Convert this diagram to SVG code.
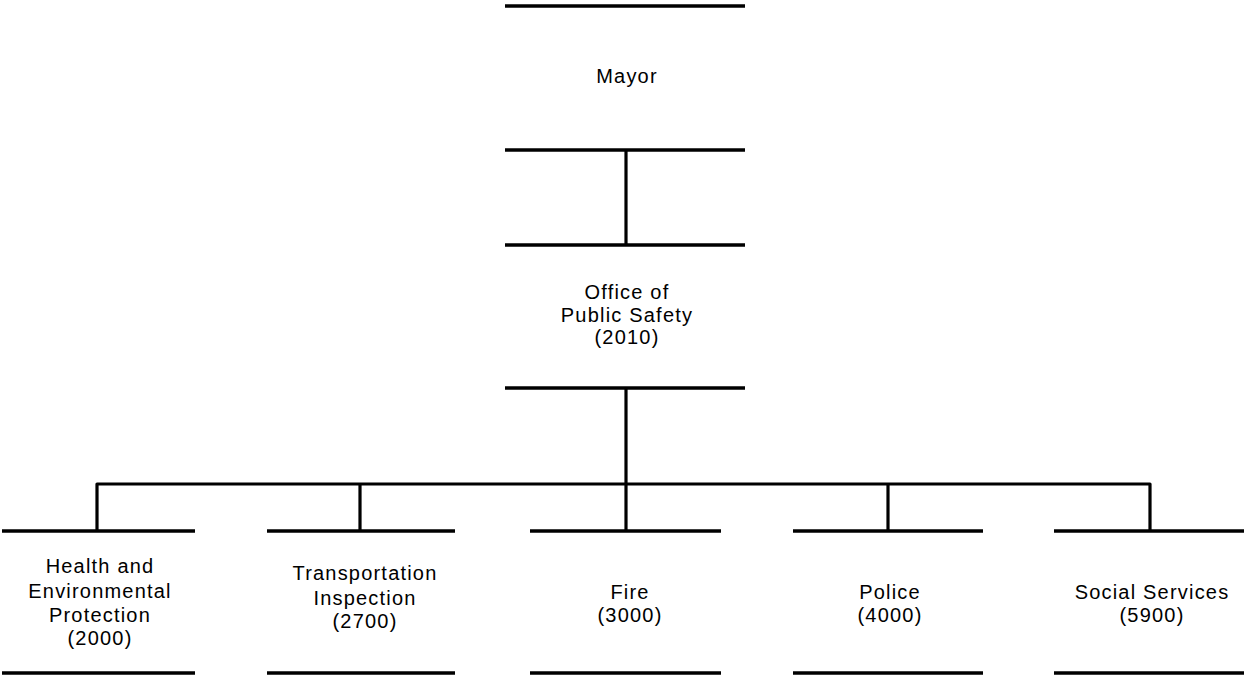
<svg xmlns="http://www.w3.org/2000/svg" width="1245" height="677" viewBox="0 0 1245 677">
<style>
.bar{stroke:#000;stroke-width:3.5;fill:none;stroke-linecap:butt}
.con{stroke:#000;stroke-width:3.2;fill:none;stroke-linejoin:round}
text{font-family:"Liberation Sans",Arial,sans-serif;font-size:20px;letter-spacing:1.2px;fill:#000;text-anchor:middle}
</style>
<rect width="1245" height="677" fill="#fff"/>
<g id="connectors">
<path class="con" d="M626 150V245"/>
<path class="con" d="M626 388V531"/>
<path class="con" d="M97 531V484H1150V531"/>
<path class="con" d="M360 484V531"/>
<path class="con" d="M888 484V531"/>
</g>
<g id="mayor">
<line class="bar" x1="505" y1="6" x2="745" y2="6"/>
<line class="bar" x1="505" y1="150" x2="745" y2="150"/>
<text x="627" y="83">Mayor</text>
</g>
<g id="office-public-safety">
<line class="bar" x1="505" y1="245" x2="745" y2="245"/>
<line class="bar" x1="505" y1="388" x2="745" y2="388"/>
<text x="627" y="299">Office of</text>
<text x="627" y="322">Public Safety</text>
<text x="627" y="344">(2010)</text>
</g>
<g id="health">
<line class="bar" x1="2" y1="531" x2="195" y2="531"/>
<line class="bar" x1="2" y1="673" x2="195" y2="673"/>
<text x="100" y="573">Health and</text>
<text x="100" y="598">Environmental</text>
<text x="100" y="622">Protection</text>
<text x="100" y="645">(2000)</text>
</g>
<g id="transportation">
<line class="bar" x1="267" y1="531" x2="455" y2="531"/>
<line class="bar" x1="267" y1="673" x2="455" y2="673"/>
<text x="365" y="580">Transportation</text>
<text x="365" y="605">Inspection</text>
<text x="365" y="628">(2700)</text>
</g>
<g id="fire">
<line class="bar" x1="530" y1="531" x2="721" y2="531"/>
<line class="bar" x1="530" y1="673" x2="721" y2="673"/>
<text x="630" y="599">Fire</text>
<text x="630" y="622">(3000)</text>
</g>
<g id="police">
<line class="bar" x1="793" y1="531" x2="983" y2="531"/>
<line class="bar" x1="793" y1="673" x2="983" y2="673"/>
<text x="890" y="599">Police</text>
<text x="890" y="622">(4000)</text>
</g>
<g id="social-services">
<line class="bar" x1="1054" y1="531" x2="1244" y2="531"/>
<line class="bar" x1="1054" y1="673" x2="1244" y2="673"/>
<text x="1152" y="599">Social Services</text>
<text x="1152" y="622">(5900)</text>
</g>
</svg>
